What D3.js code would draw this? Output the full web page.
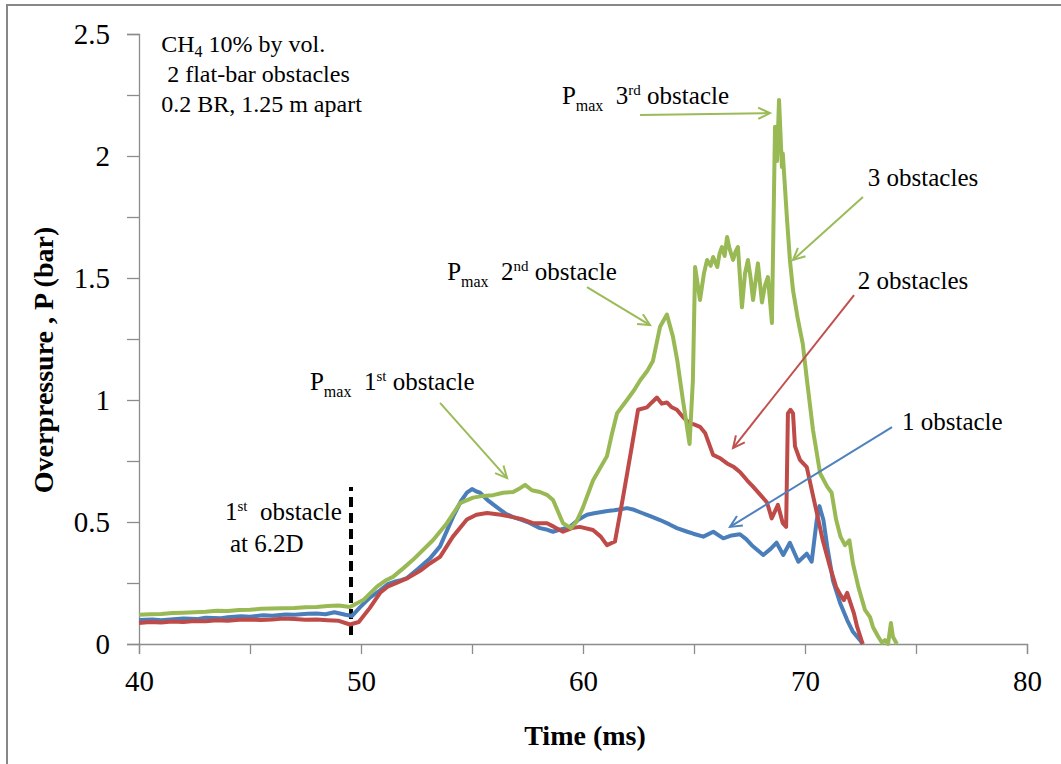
<!DOCTYPE html>
<meta charset="utf-8">
<style>
  body { margin: 0; background: #fff; }
</style>
<body>
<div id="chart"></div>
<script src="https://cdn.jsdelivr.net/npm/d3@7"></script>
<script>
// [time (ms), overpressure (bar)]
var oneObstacle = [
  [40, 0.098], [40.6, 0.10], [41, 0.097], [41.7, 0.103], [42, 0.105], [42.6, 0.102], [43, 0.108], [43.7, 0.106],
  [44, 0.11], [44.6, 0.114], [45, 0.112], [45.6, 0.118], [46, 0.116], [46.6, 0.121], [47, 0.12], [47.6, 0.124],
  [48, 0.125], [48.4, 0.122], [48.8, 0.13], [49.3, 0.12], [49.6, 0.115], [49.95, 0.15], [50.4, 0.19], [50.86, 0.22],
  [51.2, 0.245], [51.5, 0.255], [51.8, 0.262], [52.07, 0.27], [52.6, 0.31], [53.1, 0.35], [53.56, 0.40], [54.14, 0.52], [54.5, 0.585],
  [54.77, 0.62], [55.0, 0.635], [55.2, 0.625], [55.36, 0.62], [55.7, 0.59], [56.13, 0.56], [56.5, 0.535], [56.85, 0.52],
  [57.2, 0.51], [57.5, 0.50], [58.06, 0.475], [58.4, 0.468], [58.65, 0.46], [59.0, 0.47], [59.41, 0.48], [59.8, 0.51], [60.18, 0.53],
  [60.5, 0.536], [60.77, 0.54], [61.1, 0.545], [61.4, 0.548], [61.7, 0.552], [61.98, 0.557], [62.3, 0.55], [62.57, 0.54], [63.0, 0.525], [63.47, 0.508], [63.9, 0.49],
  [64.23, 0.475], [64.7, 0.46], [64.97, 0.452], [65.42, 0.44], [65.87, 0.46], [66.32, 0.433], [66.7, 0.445],
  [67.07, 0.45], [67.35, 0.43], [67.6, 0.405], [68.12, 0.365], [68.45, 0.39], [68.72, 0.415], [69.02, 0.365],
  [69.32, 0.415], [69.7, 0.337], [70.08, 0.37], [70.3, 0.337], [70.53, 0.508], [70.65, 0.565], [70.83, 0.508],
  [71.0, 0.40], [71.26, 0.26], [71.58, 0.168], [71.9, 0.098], [72.16, 0.05], [72.48, 0.016], [72.6, 0]
];
var twoObstacles = [
  [40, 0.086], [40.5, 0.09], [41, 0.088], [41.5, 0.092], [42, 0.09], [42.5, 0.094], [43, 0.093], [43.5, 0.097],
  [44, 0.095], [44.5, 0.099], [45, 0.10], [45.5, 0.098], [46, 0.10], [46.5, 0.104], [47, 0.102], [47.5, 0.099],
  [48, 0.10], [48.5, 0.097], [49, 0.095], [49.5, 0.08], [49.9, 0.09], [50.4, 0.148], [50.86, 0.21], [51.2, 0.235], [51.6, 0.25],
  [52.1, 0.27], [52.66, 0.30], [53.1, 0.33], [53.56, 0.357], [54.14, 0.44], [54.77, 0.51], [55.2, 0.53],
  [55.68, 0.537], [56.3, 0.53], [56.85, 0.52], [57.3, 0.51], [57.75, 0.495], [58.38, 0.495], [58.7, 0.48],
  [59.1, 0.46], [59.5, 0.475], [59.86, 0.48], [60.45, 0.467], [60.8, 0.44], [61.08, 0.405], [61.44, 0.42],
  [61.6, 0.50], [61.8, 0.60], [62.2, 0.81], [62.48, 0.96], [62.88, 0.97], [63.1, 0.99], [63.33, 1.01], [63.55, 0.985], [63.78, 0.99],
  [64.0, 0.97], [64.23, 0.96], [64.5, 0.93], [64.8, 0.905], [65.0, 0.9], [65.27, 0.89], [65.5, 0.865], [65.86, 0.775], [66.2, 0.76],
  [66.49, 0.74], [66.8, 0.725], [67.07, 0.705], [67.4, 0.67], [67.66, 0.645], [68.0, 0.61], [68.29, 0.58], [68.5, 0.515],
  [68.78, 0.57], [69.0, 0.495], [69.15, 0.48], [69.23, 0.945], [69.35, 0.96], [69.46, 0.945], [69.55, 0.81],
  [69.77, 0.755], [70.08, 0.725], [70.38, 0.60], [70.6, 0.51], [70.8, 0.425], [71.13, 0.315], [71.4, 0.234],
  [71.6, 0.20], [71.75, 0.18], [71.9, 0.21], [72.05, 0.168], [72.2, 0.127], [72.35, 0.07], [72.6, 0]
];
var threeObstacles = [
  [40, 0.12], [40.5, 0.122], [41, 0.123], [41.5, 0.127], [42, 0.128], [42.5, 0.13], [43, 0.132], [43.5, 0.136],
  [44, 0.135], [44.5, 0.139], [45, 0.14], [45.5, 0.144], [46, 0.145], [46.5, 0.147], [47, 0.148], [47.5, 0.151],
  [48, 0.152], [48.5, 0.156], [49, 0.158], [49.5, 0.152], [50.1, 0.18], [50.72, 0.235], [51.1, 0.26], [51.44, 0.275], [51.9, 0.31], [52.34, 0.345],
  [53.24, 0.425], [53.87, 0.495], [54.46, 0.577], [55.05, 0.60], [55.5, 0.607], [55.95, 0.61], [56.4, 0.62], [56.85, 0.623],
  [57.1, 0.635], [57.39, 0.652], [57.7, 0.63], [58.06, 0.623], [58.4, 0.61], [58.65, 0.59], [59.1, 0.495], [59.45, 0.475],
  [59.7, 0.50], [60.0, 0.56], [60.45, 0.67], [61.08, 0.77], [61.3, 0.86], [61.53, 0.945], [61.98, 1.0], [62.3, 1.04], [62.57, 1.08],
  [62.9, 1.12], [63.15, 1.16], [63.47, 1.30], [63.78, 1.35], [64.05, 1.26], [64.25, 1.16], [64.5, 1.0], [64.8, 0.82],
  [64.95, 1.08], [65.05, 1.545], [65.27, 1.41], [65.45, 1.52], [65.59, 1.574], [65.75, 1.55], [65.86, 1.586], [66.05, 1.545], [66.15, 1.60], [66.26, 1.627],
  [66.38, 1.59], [66.49, 1.668], [66.6, 1.62], [66.76, 1.574], [66.88, 1.61], [66.98, 1.627], [67.16, 1.38], [67.3, 1.52], [67.43, 1.574], [67.55, 1.50], [67.66, 1.41], [67.88, 1.56],
  [68.06, 1.40], [68.2, 1.47], [68.33, 1.504], [68.51, 1.316], [68.65, 2.12], [68.74, 1.98], [68.83, 2.23], [68.96, 1.955],
  [69.0, 2.01], [69.19, 1.74], [69.32, 1.574], [69.46, 1.45], [69.68, 1.33], [69.9, 1.23], [70.09, 1.08],
  [70.36, 0.877], [70.68, 0.70], [71.0, 0.645], [71.2, 0.62], [71.4, 0.51], [71.6, 0.44], [71.8, 0.405],
  [72.0, 0.425], [72.16, 0.33], [72.4, 0.235], [72.7, 0.14], [72.93, 0.11], [73.06, 0.07], [73.3, 0.03],
  [73.47, 0.005], [73.6, 0.016], [73.74, 0], [73.87, 0.086], [73.96, 0.03], [74.14, 0]
];

var xTicks = [40, 45, 50, 55, 60, 65, 70, 75, 80];
var yTicks = [0, 0.25, 0.5, 0.75, 1, 1.25, 1.5, 1.75, 2, 2.25, 2.5];
var xLabels = [40, 50, 60, 70, 80];
var yLabels = ["0", "0.5", "1", "1.5", "2", "2.5"];

// first obstacle marker (ms, from/to bar)
var obstacleTime = 49.55, obstacleRange = [0.037, 0.643];

// annotation arrows: [fromT, fromP, toT, toP, colour]
var arrows = [
  [62.57, 2.168, 68.42, 2.176, "green"],
  [60.18, 1.463, 63.02, 1.307, "green"],
  [53.56, 0.988, 56.58, 0.680, "green"],
  [72.61, 1.832, 69.46, 1.574, "green"],
  [72.21, 1.430, 66.76, 0.803, "red"],
  [73.92, 0.889, 66.62, 0.480, "blue"]
];

var colors = { blue: "#4a7ebb", red: "#be4b48", green: "#98b954" };
var arrowColors = { blue: "#4f81bd", red: "#c0504d", green: "#9bbb59" };
var serif = "Liberation Serif";

var W = 1061, H = 764;
var margin = { top: 34, right: 34, bottom: 120, left: 139 };

var svg = d3.select("#chart").append("svg")
  .attr("width", W).attr("height", H)
  .attr("font-family", serif);

// grey frame round the picture
svg.append("line").attr("x1", 6).attr("x2", W).attr("y1", 5).attr("y2", 5)
  .attr("stroke", "#878787").attr("stroke-width", 2);
svg.append("line").attr("x1", 7).attr("x2", 7).attr("y1", 5).attr("y2", H)
  .attr("stroke", "#878787").attr("stroke-width", 2);

var x = d3.scaleLinear().domain([40, 80]).range([margin.left, 1027]);
var y = d3.scaleLinear().domain([0, 2.5]).range([644, margin.top]);

// axes
var xAxis = svg.append("g")
  .attr("transform", "translate(0," + y(0) + ")")
  .call(d3.axisBottom(x).tickValues(xTicks).tickSize(10).tickPadding(16)
    .tickFormat(function (d) { return xLabels.indexOf(d) >= 0 ? d : ""; }));
var yAxis = svg.append("g")
  .attr("transform", "translate(" + x(40) + ",0)")
  .call(d3.axisLeft(y).tickValues(yTicks).tickSize(12).tickPadding(17)
    .tickFormat(function (d) { var s = String(d); return yLabels.indexOf(s) >= 0 ? s : ""; }));

[xAxis, yAxis].forEach(function (a) {
  a.attr("font-family", serif).attr("font-size", 29);
  a.select(".domain").attr("stroke", "#8c8c8c").attr("stroke-width", 1.3);
  a.selectAll(".tick line").attr("stroke", "#8c8c8c").attr("stroke-width", 1.3);
  a.selectAll(".tick text").attr("fill", "#000");
});

// axis titles
svg.append("text")
  .attr("x", 585).attr("y", 745)
  .attr("text-anchor", "middle")
  .attr("font-size", 28).attr("font-weight", "bold")
  .text("Time (ms)");
svg.append("text")
  .attr("transform", "translate(53,360) rotate(-90)")
  .attr("text-anchor", "middle")
  .attr("font-size", 28).attr("font-weight", "bold")
  .text("Overpressure , P (bar)");

// first obstacle location
svg.append("line")
  .attr("x1", x(obstacleTime)).attr("x2", x(obstacleTime))
  .attr("y1", y(obstacleRange[0])).attr("y2", y(obstacleRange[1]))
  .attr("stroke", "#000").attr("stroke-width", 4)
  .attr("stroke-dasharray", "10,6");

// the three traces
var line = d3.line()
  .x(function (d) { return x(d[0]); })
  .y(function (d) { return y(d[1]); });

[[oneObstacle, "blue"], [twoObstacles, "red"], [threeObstacles, "green"]].forEach(function (s) {
  svg.append("path")
    .datum(s[0])
    .attr("fill", "none")
    .attr("stroke", colors[s[1]])
    .attr("stroke-width", 4)
    .attr("stroke-linejoin", "round")
    .attr("d", line);
});

// arrows with open heads
arrows.forEach(function (a) {
  var x1 = x(a[0]), y1 = y(a[1]), x2 = x(a[2]), y2 = y(a[3]);
  var ang = Math.atan2(y2 - y1, x2 - x1), L = 13, sp = 0.45;
  var c = arrowColors[a[4]];
  svg.append("line")
    .attr("x1", x1).attr("y1", y1).attr("x2", x2).attr("y2", y2)
    .attr("stroke", c).attr("stroke-width", 2);
  svg.append("path")
    .attr("d", "M" + (x2 - L * Math.cos(ang - sp)) + "," + (y2 - L * Math.sin(ang - sp)) +
      "L" + x2 + "," + y2 +
      "L" + (x2 - L * Math.cos(ang + sp)) + "," + (y2 - L * Math.sin(ang + sp)))
    .attr("fill", "none").attr("stroke", c).attr("stroke-width", 2);
});

// text notes; parts are [text, font size or null, dy]
function note(t, p, parts, size) {
  var txt = svg.append("text")
    .attr("x", x(t)).attr("y", y(p))
    .attr("font-size", size || 24)
    .attr("fill", "#000");
  parts.forEach(function (q) {
    var ts = txt.append("tspan").text(q[0]);
    if (q[1]) ts.attr("font-size", q[1]);
    if (q[2]) ts.attr("dy", q[2]);
  });
}
function pmax(n, suf) {
  return [["P"], ["max", 16, 7], ["\u00a0\u00a0" + n, null, -7], [suf, 15, -9], [" obstacle", null, 9]];
}

note(41.0, 2.426, [["CH"], ["4", 16, 5], [" 10% by vol.", null, -5]]);
note(41.0, 2.303, [["\u00a02 flat-bar obstacles"]]);
note(41.0, 2.180, [["0.2 BR, 1.25 m apart"]]);

note(59.05, 2.213, pmax("3", "rd"), 25);
note(53.88, 1.492, pmax("2", "nd"), 25);
note(47.70, 1.041, pmax("1", "st"), 25);

note(72.83, 1.877, [["3 obstacles"]], 25);
note(72.38, 1.455, [["2 obstacles"]], 25);
note(74.37, 0.877, [["1 obstacle"]], 25);

note(43.87, 0.508, [["1"], ["st", 15, -9], ["\u00a0 obstacle", null, 9]], 25);
note(44.10, 0.377, [["at 6.2D"]], 25);
</script>
</body>
